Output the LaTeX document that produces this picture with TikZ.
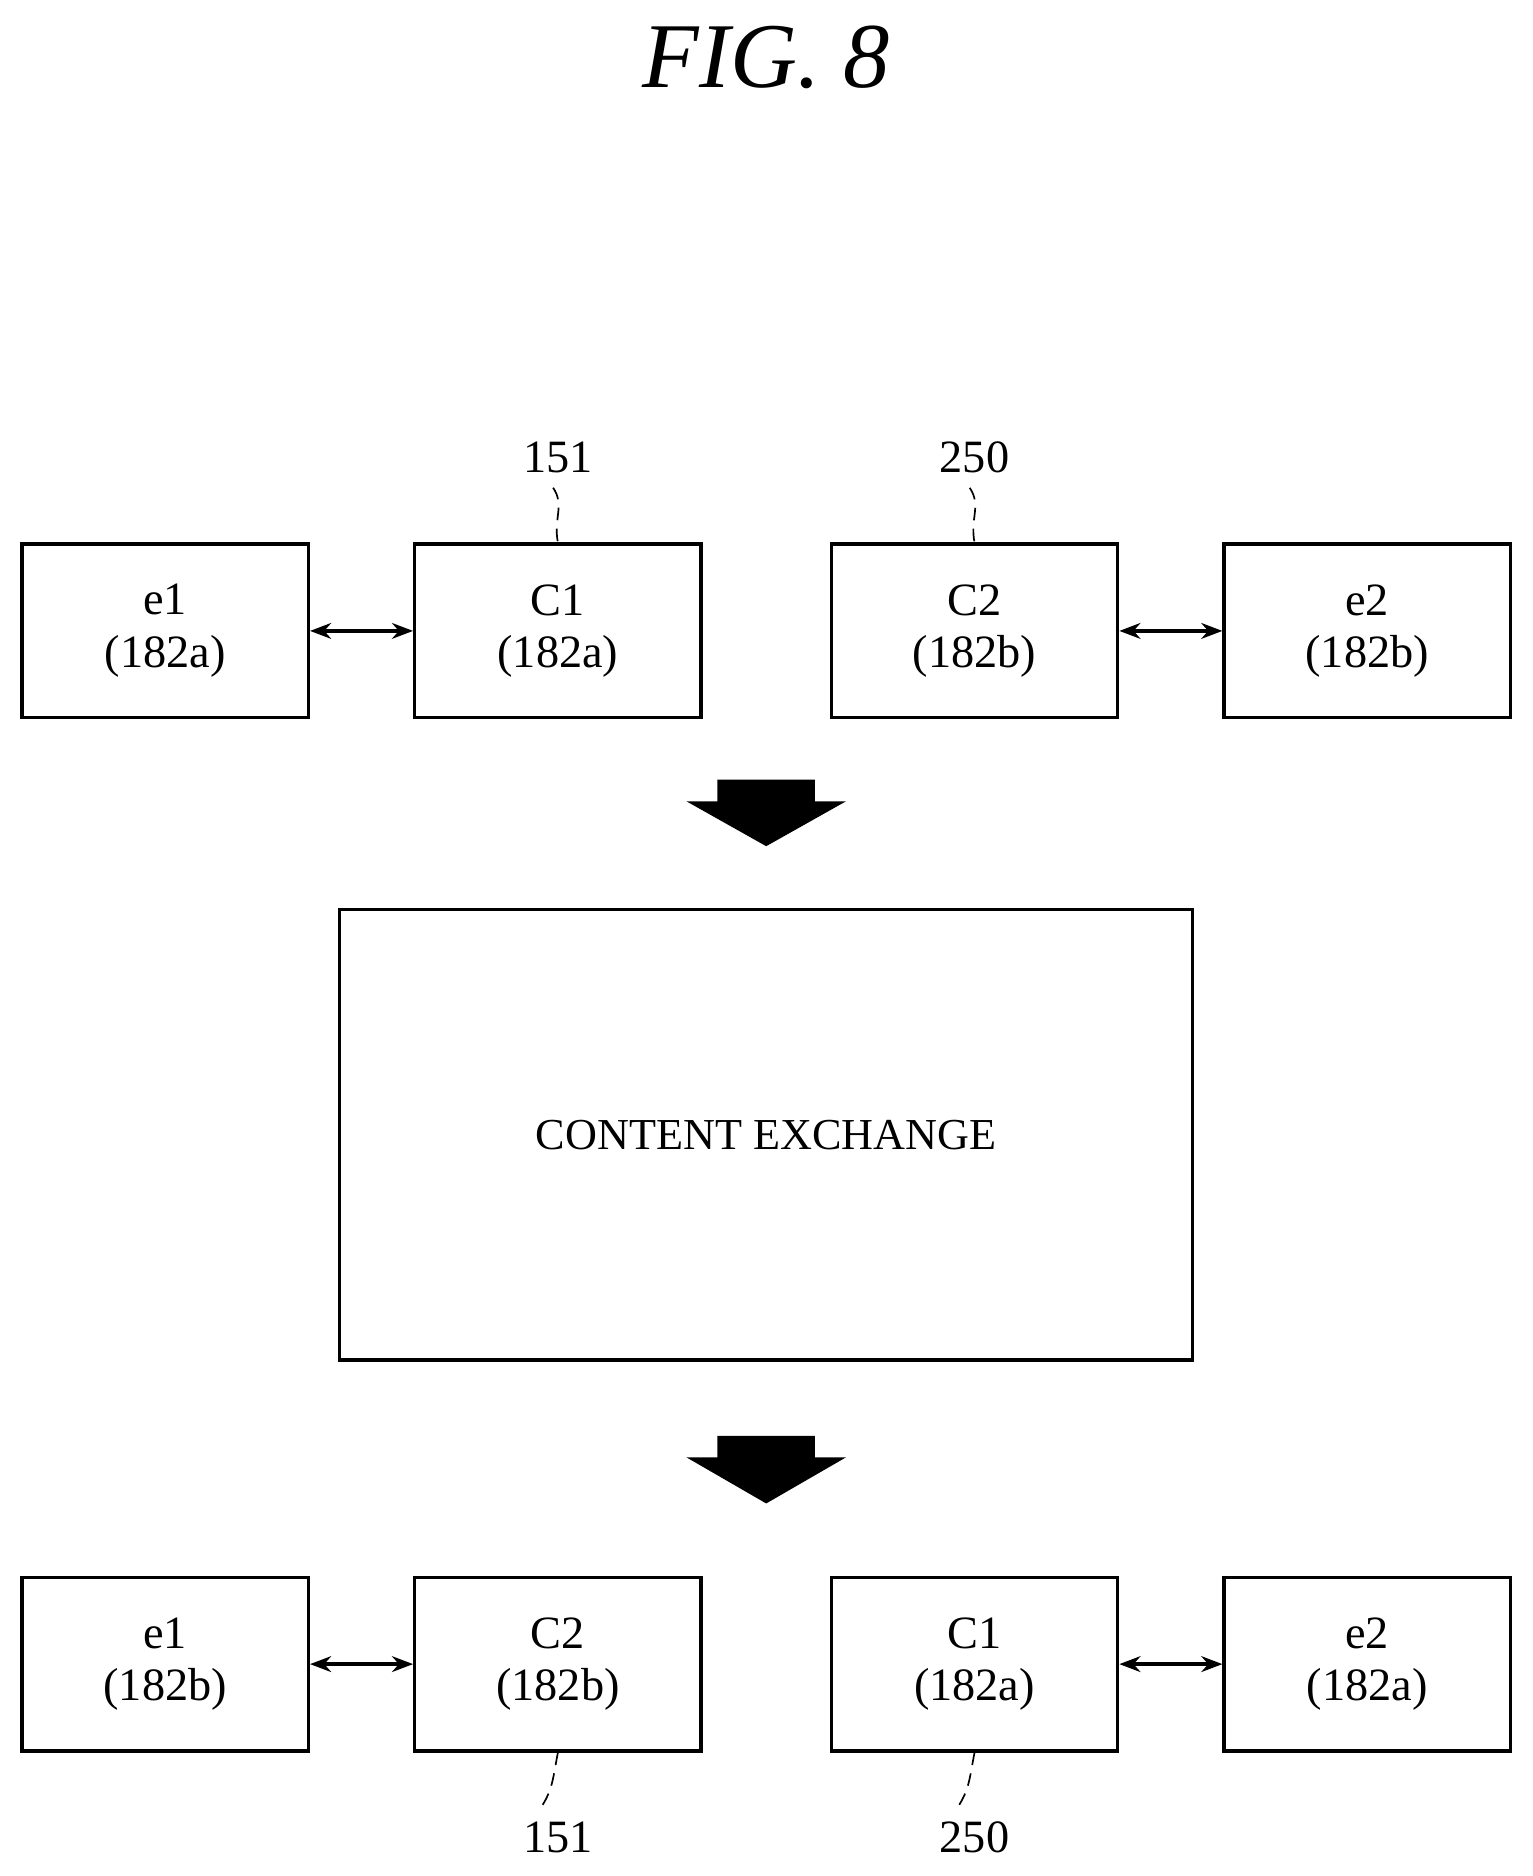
\documentclass[tikz,border=0pt]{standalone}
\usepackage{fontspec}
\setmainfont{Liberation Serif}
\usetikzlibrary{arrows.meta}
\begin{document}
\begin{tikzpicture}
  [
    x=0.01cm, y=-0.01cm,
    box/.style={draw, thick, minimum width=2.39cm, minimum height=1.45cm,
      align=center, font=\fontsize{11}{12.5}\selectfont},
    link/.style={{Stealth[length=5pt]}-{Stealth[length=5pt]}, thick},
    ref/.style={font=\fontsize{11}{13}\selectfont},
    fat/.style={fill=black}
  ]
  \useasboundingbox (0,0) rectangle (1280,1567);
  \node[font=\itshape\fontsize{22}{26}\selectfont] (title) at (640,48) {FIG. 8};
  % before exchange
  \node[box] (e1a) at (138,527) {e1\\(182a)};
  \node[box] (c1a) at (466,527) {C1\\(182a)};
  \node[box] (c2a) at (814,527) {C2\\(182b)};
  \node[box] (e2a) at (1142,527) {e2\\(182b)};
  \draw[link] (e1a) -- (c1a);
  \draw[link] (c2a) -- (e2a);
  \node[ref] (r151a) at (466,382) {151};
  \node[ref] (r250a) at (814,382) {250};
  \draw[densely dashed] (r151a.south) ++(-4,0) .. controls +(10,15) and +(-4,-20) .. (c1a.north);
  \draw[densely dashed] (r250a.south) ++(-4,0) .. controls +(10,15) and +(-4,-20) .. (c2a.north);
  % arrow
  \draw[fat] (600,652) -- (680,652) -- (680,670) -- (704,670) -- (640,706)
    -- (576,670) -- (600,670) -- cycle;
  % exchange
  \node[draw, thick, minimum width=7.12cm, minimum height=3.76cm,
    font=\fontsize{10.5}{13}\selectfont] (xchg) at (640,948) {CONTENT EXCHANGE};
  \draw[fat] (600,1200) -- (680,1200) -- (680,1218) -- (704,1218) -- (640,1255)
    -- (576,1218) -- (600,1218) -- cycle;
  % after exchange
  \node[box] (e1b) at (138,1390) {e1\\(182b)};
  \node[box] (c2b) at (466,1390) {C2\\(182b)};
  \node[box] (c1b) at (814,1390) {C1\\(182a)};
  \node[box] (e2b) at (1142,1390) {e2\\(182a)};
  \draw[link] (e1b) -- (c2b);
  \draw[link] (c1b) -- (e2b);
  \node[ref] (r151b) at (466,1535) {151};
  \node[ref] (r250b) at (814,1535) {250};
  \draw[densely dashed] (c2b.south) .. controls +(-4,20) and +(10,-15) .. ([xshift=-4]r151b.north);
  \draw[densely dashed] (c1b.south) .. controls +(-4,20) and +(10,-15) .. ([xshift=-4]r250b.north);
\end{tikzpicture}
\end{document}
